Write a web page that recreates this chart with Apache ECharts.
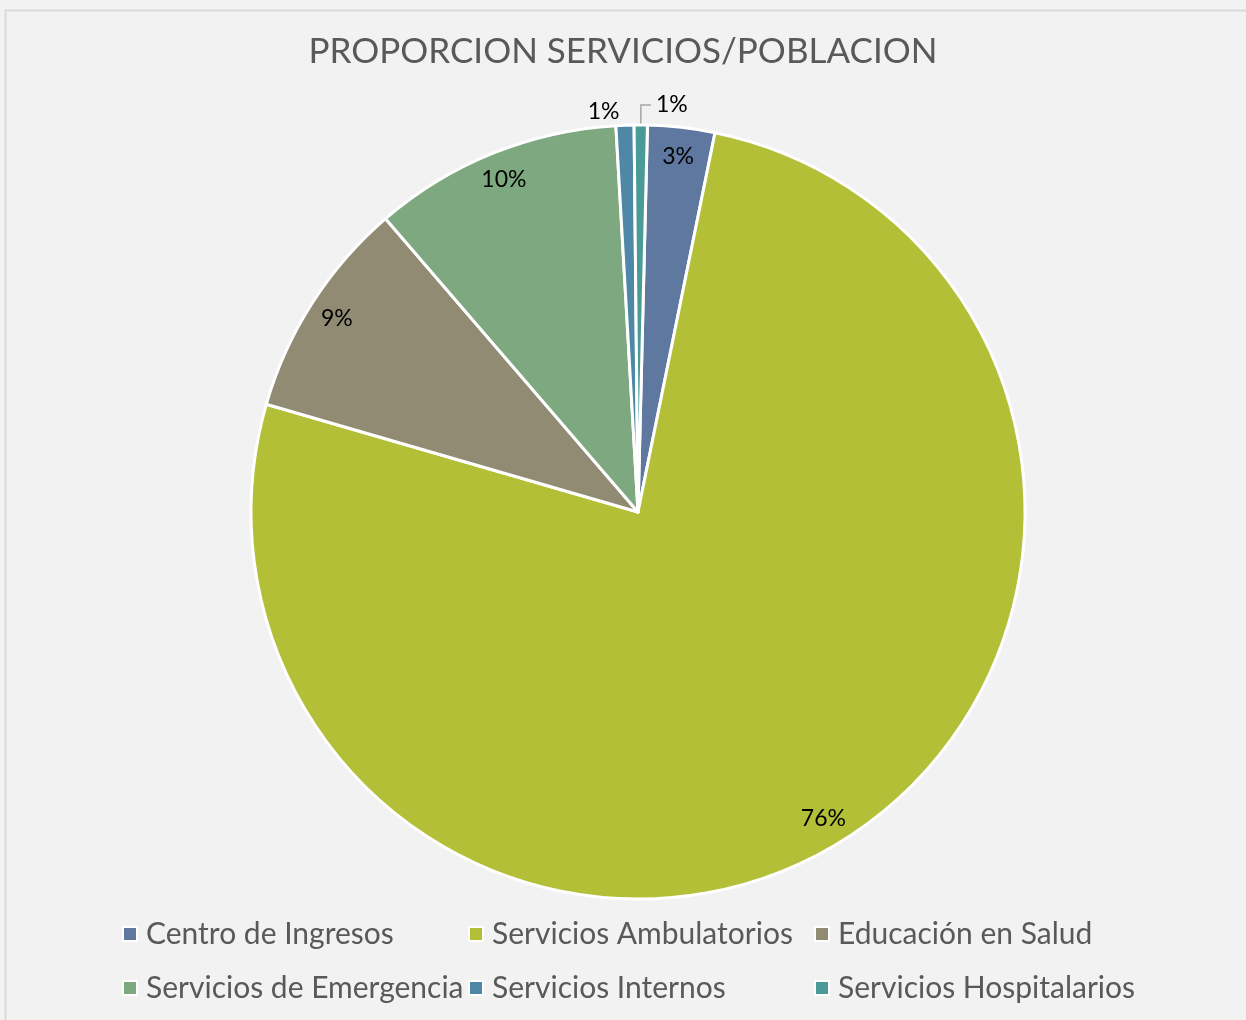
<!DOCTYPE html>
<html>
<head>
<meta charset="UTF-8">
<title>Proporcion servicios/poblacion</title>
<style>
  html, body { margin: 0; padding: 0; background: #f2f2f2; }
  #chart { width: 1246px; height: 1020px; }
</style>
<script src="https://cdn.jsdelivr.net/npm/echarts@6/dist/echarts.min.js"></script>
</head>
<body>
<div id="chart"></div>
<script>
// datos (porcentajes aproximados)
var categorias = ['Centro de Ingresos', 'Servicios Ambulatorios', 'Educación en Salud',
                  'Servicios de Emergencia', 'Servicios Internos', 'Servicios Hospitalarios'];
var valores = [2.8, 76.3, 9.2, 10.4, 0.75, 0.55];
var colores = ['#5f789f', '#b3bf36', '#908b72', '#7ea87f', '#4f87a6', '#4a9a97'];

var fuente = 'Lato, "Open Sans", sans-serif';
var chart = echarts.init(document.getElementById('chart'));

function pct(p) { return Math.round(p.percent) + '%'; }

// serie principal: etiquetas externas solo para las porciones pequeñas
var datosPie = categorias.map(function (c, i) {
  var item = { name: c, value: valores[i] };
  if (i === 4) {
    item.label = { show: true };
    item.labelLine = { show: false, length: 14, length2: 0 };
  } else if (i === 5) {
    item.label = { show: true };
    item.labelLine = { show: true, length: 20, length2: 10 };
  } else {
    item.label = { show: false };
    item.labelLine = { show: false };
  }
  return item;
});

// serie invisible para colocar las etiquetas interiores cerca del borde
var datosEtiq = categorias.map(function (c, i) {
  return { name: c, value: valores[i], label: { show: i < 4 } };
});

var posLeyenda = [[122, 919], [468, 919], [814, 919], [122, 973], [468, 973], [814, 973]];
var leyendas = categorias.map(function (c, i) {
  return {
    left: posLeyenda[i][0], top: posLeyenda[i][1], padding: 0,
    data: [c], icon: 'rect', itemWidth: 14, itemHeight: 14, itemGap: 0,
    itemStyle: { borderColor: '#ffffff', borderWidth: 2 },
    selectedMode: false,
    textStyle: { fontSize: 30, color: '#595959', fontFamily: fuente, padding: [0, 0, 0, 4] }
  };
});

var option = {
  backgroundColor: '#f2f2f2',
  color: colores,
  animation: false,
  title: {
    text: 'PROPORCION SERVICIOS/POBLACION',
    left: 'center', top: 29,
    textStyle: { fontSize: 35, fontWeight: 'normal', color: '#595959', fontFamily: fuente }
  },
  graphic: [{
    type: 'rect', left: 3, top: 8, silent: true,
    shape: { width: 1260, height: 1030 },
    style: { fill: 'none', stroke: '#d9d9d9', lineWidth: 2 }
  }],
  legend: leyendas,
  series: [{
    type: 'pie',
    center: [638, 512],
    radius: [0, 387],
    startAngle: 88.6,
    avoidLabelOverlap: false,
    silent: true,
    data: datosPie,
    itemStyle: { borderColor: '#ffffff', borderWidth: 3 },
    label: {
      position: 'outside', formatter: pct,
      fontSize: 23, color: '#000000', fontFamily: fuente
    },
    labelLine: { lineStyle: { color: '#a6a6a6', width: 1.5 } }
  }, {
    type: 'pie',
    center: [638, 512],
    radius: [326, 384],
    startAngle: 88.6,
    silent: true,
    legendHoverLink: false,
    data: datosEtiq,
    itemStyle: { color: 'transparent', borderWidth: 0 },
    label: {
      position: 'inside', formatter: pct,
      fontSize: 23, color: '#000000', fontFamily: fuente
    },
    labelLine: { show: false }
  }]
};

chart.setOption(option);
</script>
</body>
</html>
